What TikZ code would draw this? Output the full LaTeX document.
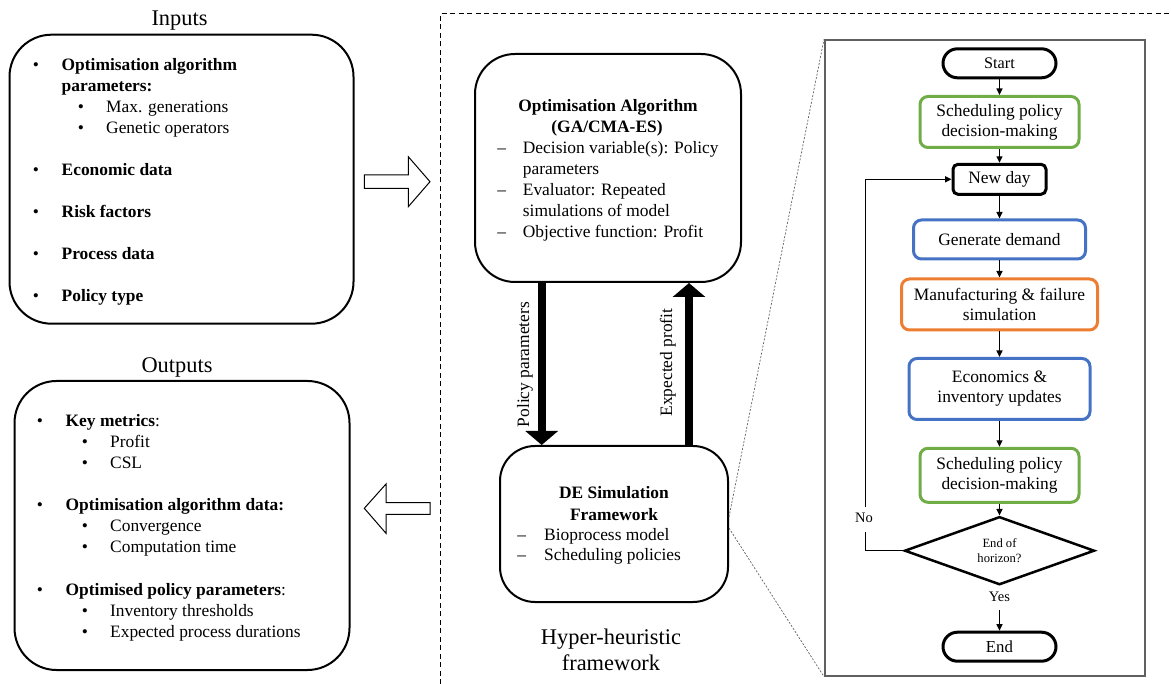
\documentclass[tikz,border=0pt]{standalone}
\usepackage{fontspec}
\setmainfont{Liberation Serif}
\usetikzlibrary{arrows.meta,shapes.geometric,calc}

\definecolor{polgreen}{HTML}{70AD47}
\definecolor{simblue}{HTML}{4472C4}
\definecolor{mfgorange}{HTML}{ED7D31}
\definecolor{zoomgray}{HTML}{606060}

\newcommand{\bodysize}{\fontsize{17.4}{21}\selectfont}
\newcommand{\flowsize}{\fontsize{17.4}{20}\selectfont}
\newcommand{\headsize}{\fontsize{22.4}{26}\selectfont}

\begin{document}
\begin{tikzpicture}[x=1pt,y=-1pt,
  panel/.style={draw,line width=2pt,rounded corners=#1,inner sep=0pt},
  lt/.style={anchor=base west,inner sep=0pt,font=\bodysize},
  ct/.style={anchor=base,inner sep=0pt,font=\bodysize},
  bt/.style={anchor=base,inner sep=0pt,font=\bodysize\bfseries},
  hd/.style={anchor=base,inner sep=0pt,font=\headsize},
  stepbox/.style={draw=#1,line width=3pt,rounded corners=8pt,align=center,
    font=\flowsize,inner sep=0pt},
  terminal/.style={stepbox=black,rounded corners=14.5pt,minimum width=113pt,
    minimum height=29pt},
  flow/.style={draw,line width=1.4pt,-{Triangle[length=6.5pt,width=6pt]}},
  flowline/.style={draw,line width=1.4pt},
  fat/.style={draw,line width=8pt,-{Triangle[length=14pt,width=32pt]}},
  hollow/.style={draw,line width=1pt,line join=miter},
  zoomline/.style={draw=zoomgray,line width=0.7pt,dash pattern=on 2pt off 1.6pt},
  smalltxt/.style={anchor=base,inner sep=0pt,font=\fontsize{14.5}{17}\selectfont}
]
\useasboundingbox (0,0) rectangle (1171,684);

% ---------------- Inputs ----------------
\node[hd] (inhead) at (179.5,26) {Inputs};
\node[panel=42pt,minimum width=344pt,minimum height=289pt] (inbox) at (181.5,179.2) {};
\node[ct] (ib1) at (36,70.5) {•};
\node[lt] (it1) at (61.5,70.5) {\bfseries Optimisation algorithm};
\node[lt] (it2) at (61.5,91.5) {\bfseries parameters:};
\node[ct] (ib2) at (81,112.5) {•};
\node[lt] (it3) at (106,112.5) {Max. generations};
\node[ct] (ib3) at (81,133.5) {•};
\node[lt] (it4) at (106,133.5) {Genetic operators};
\node[ct] (ib4) at (36,175.5) {•};
\node[lt] (it5) at (61.5,175.5) {\bfseries Economic data};
\node[ct] (ib5) at (36,217.5) {•};
\node[lt] (it6) at (61.5,217.5) {\bfseries Risk factors};
\node[ct] (ib6) at (36,259.5) {•};
\node[lt] (it7) at (61.5,259.5) {\bfseries Process data};
\node[ct] (ib7) at (36,301.5) {•};
\node[lt] (it8) at (61.5,301.5) {\bfseries Policy type};

% ---------------- Outputs ----------------
\node[hd] (outhead) at (177,372.7) {Outputs};
\node[panel=42pt,minimum width=335pt,minimum height=289pt] (outbox) at (182,525.5) {};
\node[ct] (ob1) at (40,427) {•};
\node[lt] (ot1) at (65.5,427) {\textbf{Key metrics}:};
\node[ct] (ob2) at (85,448) {•};
\node[lt] (ot2) at (110,448) {Profit};
\node[ct] (ob3) at (85,469) {•};
\node[lt] (ot3) at (110,469) {CSL};
\node[ct] (ob4) at (40,511) {•};
\node[lt] (ot4) at (65.5,511) {\bfseries Optimisation algorithm data:};
\node[ct] (ob5) at (85,532) {•};
\node[lt] (ot5) at (110,532) {Convergence};
\node[ct] (ob6) at (85,553) {•};
\node[lt] (ot6) at (110,553) {Computation time};
\node[ct] (ob7) at (40,595) {•};
\node[lt] (ot7) at (65.5,595) {\textbf{Optimised policy parameters}:};
\node[ct] (ob8) at (85,616) {•};
\node[lt] (ot8) at (110,616) {Inventory thresholds};
\node[ct] (ob9) at (85,637) {•};
\node[lt] (ot9) at (110,637) {Expected process durations};

% block arrows into and out of the framework
\draw[hollow] (364.3,175) -- (408.3,175) -- (408.3,156.7) -- (430,181.7)
  -- (408.3,206.7) -- (408.3,188.3) -- (364.3,188.3) -- cycle;
\draw[hollow] (430,502.7) -- (386,502.7) -- (386,484) -- (364.3,508.3)
  -- (386,533.3) -- (386,514.3) -- (430,514.3) -- cycle;

% ---------------- Hyper-heuristic framework ----------------
\draw[line width=1pt,dash pattern=on 5pt off 3.5pt] (440,684) -- (440,14) -- (1171,14);

\node[panel=40pt,minimum width=266pt,minimum height=228pt] (opt) at (608,168) {};
\node[bt] (opt1) at (608,112) {Optimisation Algorithm};
\node[bt] (opt2) at (607,133) {(GA/CMA-ES)};
\node[ct] (od1) at (501.7,154) {–};
\node[lt] (op1) at (522.7,154) {Decision variable(s): Policy};
\node[lt] (op2) at (522.7,175) {parameters};
\node[ct] (od2) at (501.7,196) {–};
\node[lt] (op3) at (522.7,196) {Evaluator: Repeated};
\node[lt] (op4) at (522.7,217) {simulations of model};
\node[ct] (od3) at (501.7,238) {–};
\node[lt] (op5) at (522.7,238) {Objective function: Profit};

\node[panel=35pt,minimum width=228pt,minimum height=156pt] (de) at (614,524) {};
\node[bt] (de1) at (614,499) {DE Simulation};
\node[bt] (de2) at (614,520.5) {Framework};
\node[ct] (dd1) at (521.7,540.6) {–};
\node[lt] (dp1) at (544,540.6) {Bioprocess model};
\node[ct] (dd2) at (521.7,560.6) {–};
\node[lt] (dp2) at (544,560.6) {Scheduling policies};

\coordinate (downx) at (541.7,0);
\coordinate (upx) at (689,0);
\draw[fat] (downx |- opt.south) -- (downx |- de.north);
\draw[fat] (upx |- de.north) -- (upx |- opt.south);
\node[ct,rotate=90] (lblpol) at (529,364.5) {Policy parameters};
\node[ct,rotate=90] (lblexp) at (672,362.5) {Expected profit};

\node[hd] (hh1) at (611,644) {Hyper-heuristic};
\node[hd] (hh2) at (611,670) {framework};

% ---------------- Simulation flowchart ----------------
\node[draw=zoomgray,line width=1.6pt,minimum width=320.4pt,minimum height=635.8pt,
  inner sep=0pt] (frame) at (985,358) {};
\draw[zoomline] ([yshift=7pt]de.east) -- (frame.north west);
\draw[zoomline] ([yshift=-4pt]de.east) -- (frame.south west);

\node[terminal,font=\fontsize{16.2}{19}\selectfont] (start) at (999.5,63.3) {Start};
\node[stepbox=polgreen,minimum width=159pt,minimum height=51pt] (sched1) at (999.5,122) {Scheduling policy\\decision-making};
\node[stepbox=black,rounded corners=5pt,minimum width=93pt,minimum height=30pt] (newday) at (999.5,179.3) {New day};
\node[stepbox=simblue,minimum width=172pt,minimum height=39pt] (demand) at (999.5,239.5) {Generate demand};
\node[stepbox=mfgorange,minimum width=196pt,minimum height=51pt] (mfg) at (999.5,304.5) {Manufacturing \& failure\\simulation};
\node[stepbox=simblue,minimum width=181pt,minimum height=61pt] (econ) at (999.5,389) {Economics \&\\inventory updates};
\node[stepbox=polgreen,minimum width=159pt,minimum height=54pt] (sched2) at (999.5,475.3) {Scheduling policy\\decision-making};
\node[diamond,draw,line width=2.5pt,minimum width=190pt,minimum height=57pt,inner sep=0pt,
  align=center,font=\fontsize{12.6}{15}\selectfont] (horizon) at (999.5,550.7) {End of\\horizon?};
\node[smalltxt] (yes) at (999.5,601.7) {Yes};
\node[terminal,font=\fontsize{16.8}{19}\selectfont] (finish) at (999.5,646.7) {End};

\draw[flow] (start) -- (sched1);
\draw[flow] (sched1) -- (newday);
\draw[flow] (newday) -- (demand);
\draw[flow] (demand) -- (mfg);
\draw[flow] (mfg) -- (econ);
\draw[flow] (econ) -- (sched2);
\draw[flow] (sched2) -- (horizon);
\draw[flow,shorten <=8pt] (yes.south) -- (finish);

\coordinate (loopx) at (865.7,0);
\node[smalltxt] (no) at (864,522.7) {No};
\draw[flowline] (horizon.west) -- (loopx |- horizon.west) -- ($(loopx |- no.base)+(0,9)$);
\draw[flow] ($(loopx |- no.base)+(0,-16)$) -- (loopx |- newday.west) -- (newday.west);
\end{tikzpicture}
\end{document}
